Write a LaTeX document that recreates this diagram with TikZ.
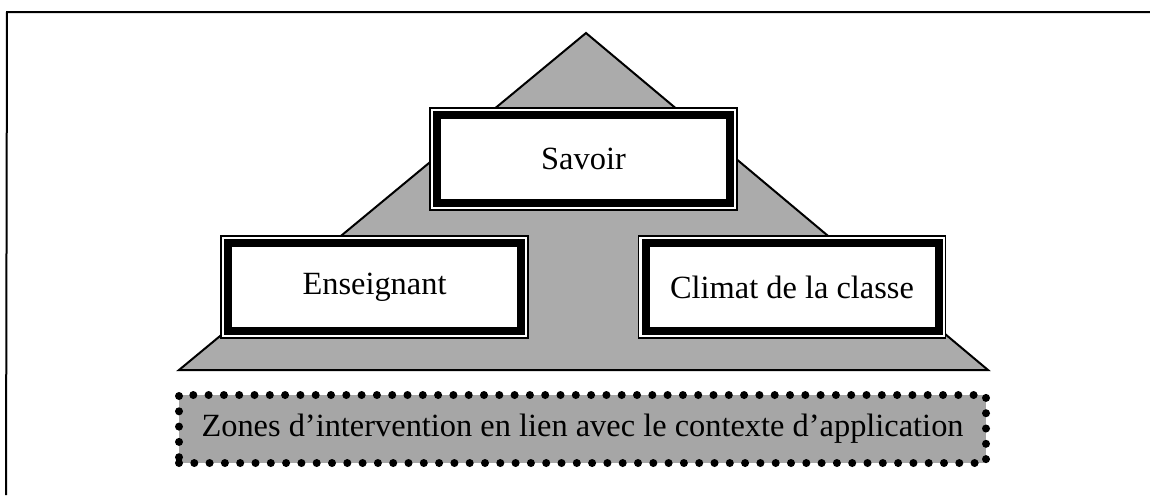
\documentclass[tikz,border=0pt]{standalone}
\usepackage{fontspec}
\setmainfont{Liberation Serif}
\begin{document}
\begin{tikzpicture}[x=0.5pt,y=-0.5pt,
  frame/.style={draw=black, line width=1pt},
  pyr/.style={draw=black, line width=1pt, fill=black!33, line join=miter},
  box/.style={rectangle, draw=black, line width=4pt, fill=white,
    minimum width=146.5pt, minimum height=44pt, inner sep=0pt,
    preaction={draw=black, line width=7.75pt},
    preaction={draw=white, line width=6.25pt},
    font=\fontsize{16.2}{19}\selectfont},
  zone/.style={rectangle, fill=black!35, draw=black, line width=4pt,
    dash pattern=on 0pt off 7.65pt, line cap=round,
    minimum width=403.5pt, minimum height=34pt, inner sep=0pt,
    font=\fontsize{16.2}{19}\selectfont}
]
\useasboundingbox (0,0) rectangle (1150,495);
% outer frame (cut off at right and bottom)
\coordinate (ftr) at (1150,12);
\coordinate (ftl) at (7,12);
\coordinate (fbl) at (6,495);
\draw[frame] (ftr) -- (ftl) -- (fbl);
% pyramid
\coordinate (apex) at (586,33);
\coordinate (bl) at (179,370);
\coordinate (br) at (988,370);
\draw[pyr] (apex) -- (br) -- (bl) -- cycle;
% boxes
\node[box] (savoir) at (583.5,159) {Savoir};
\node[box] (ens) at (374.5,287) {Enseignant};
\node[box] (climat) at (792,287) {Climat de la classe};
% bottom zone
\node[zone] (zones) at (582.5,429) {Zones d’intervention en lien avec le contexte d’application};
\end{tikzpicture}
\end{document}
